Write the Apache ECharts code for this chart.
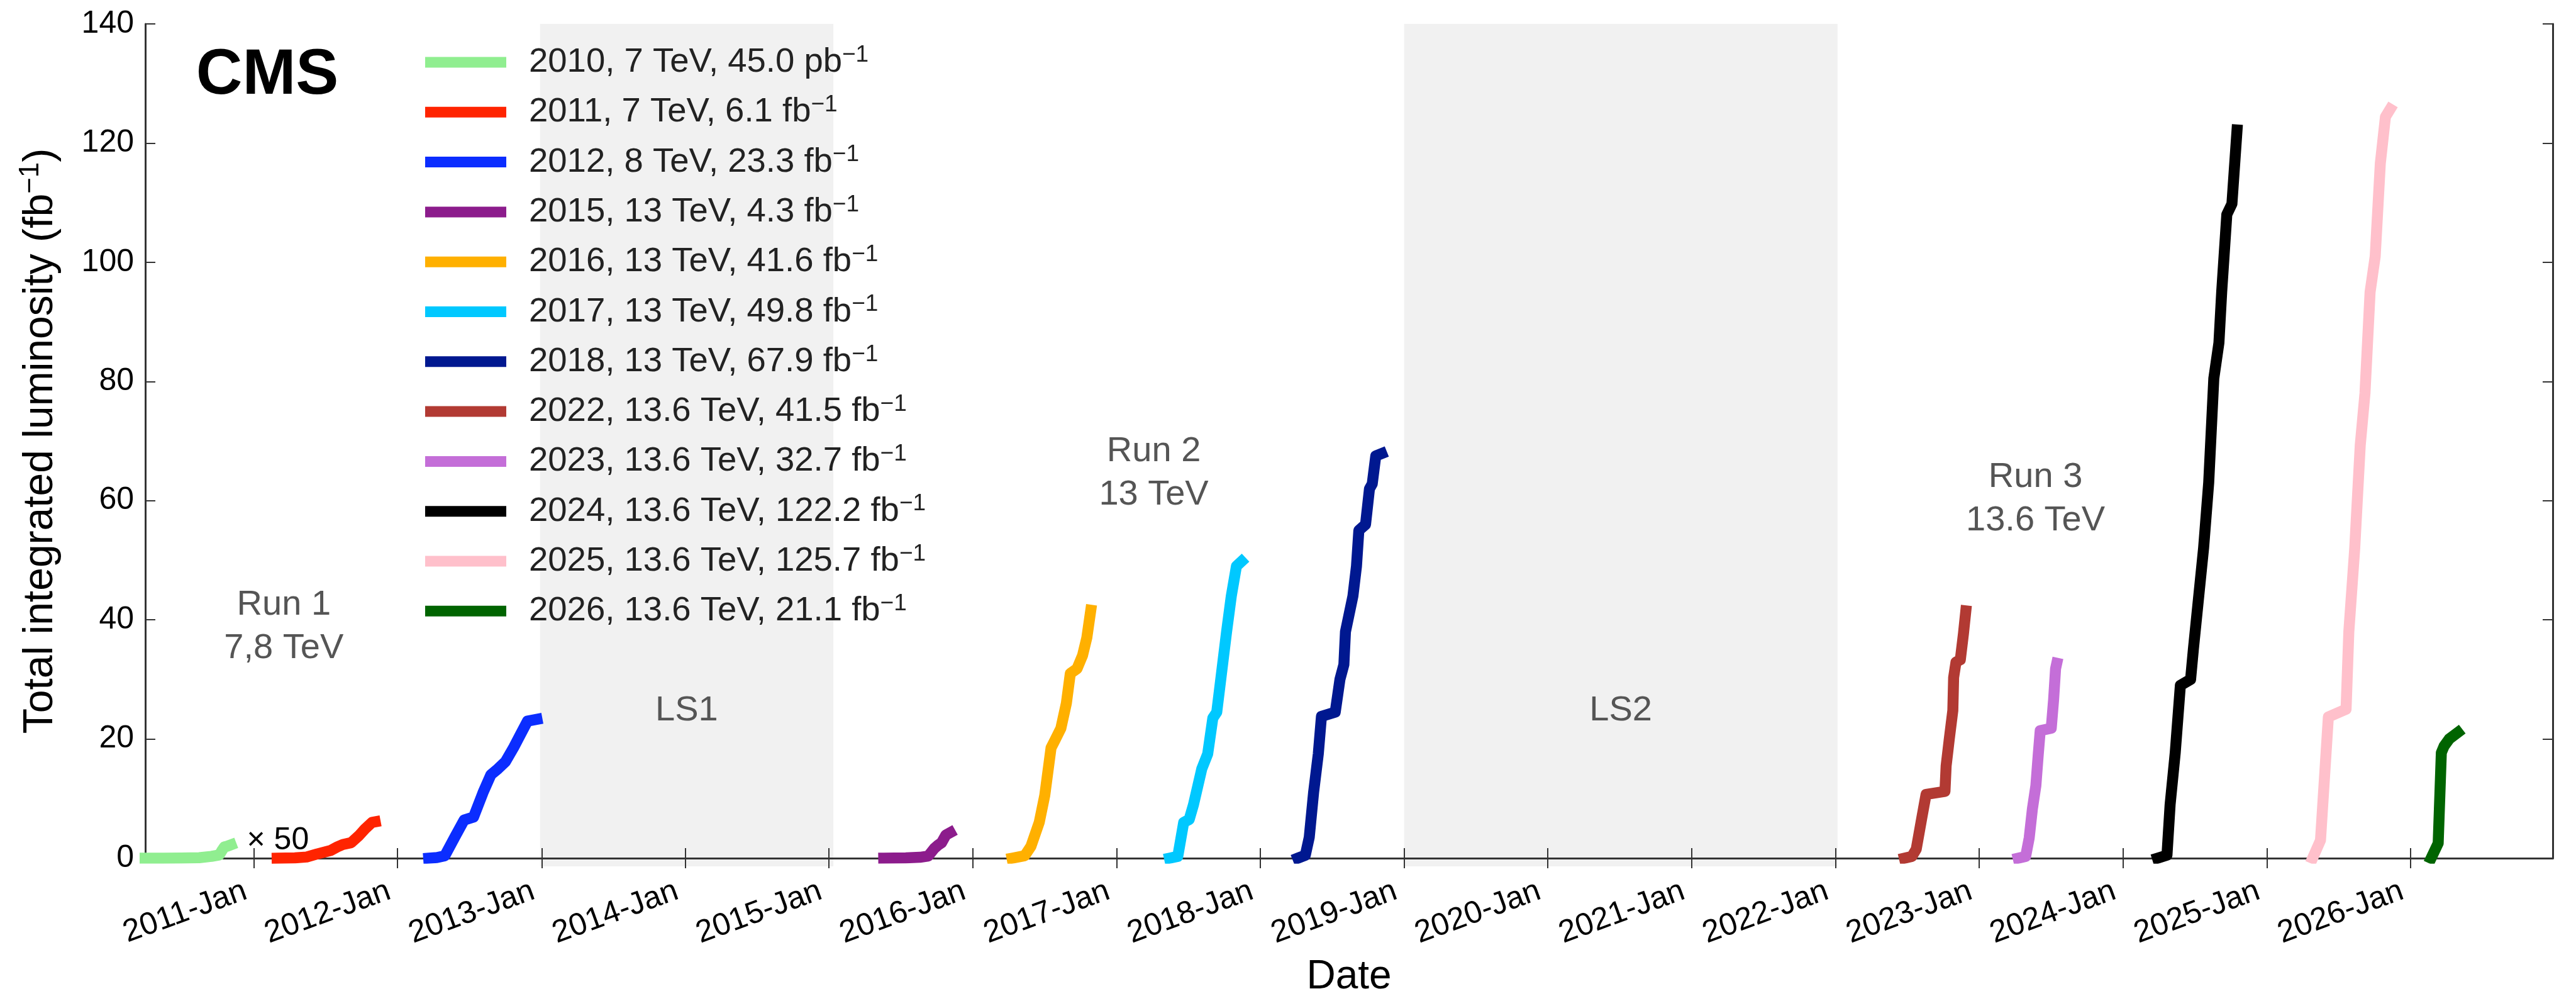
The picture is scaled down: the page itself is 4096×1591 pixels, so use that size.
<!DOCTYPE html>
<html>
<head>
<meta charset="utf-8">
<title>CMS integrated luminosity</title>
<script src="https://cdn.jsdelivr.net/npm/echarts@6/dist/echarts.min.js"></script>
<style>
  html, body { margin: 0; padding: 0; background: #fff; }
  #chart { width: 4096px; height: 1591px; }
</style>
</head>
<body>
<div id="chart"></div>
<script>
// cumulative luminosity per year (2010 is drawn x50)
const dates2010 = ['2010-03-30', '2010-05-15', '2010-07-01', '2010-08-15', '2010-09-15', '2010-10-05', '2010-10-12', '2010-10-18', '2010-10-25', '2010-11-04'];
const lumi2010 = [0, 0.01, 0.03, 0.08, 0.3, 0.55, 1.3, 1.9, 2.0, 2.25];

const dates2011 = ['2011-03-01', '2011-04-15', '2011-05-15', '2011-06-10', '2011-07-15', '2011-08-01', '2011-08-15', '2011-09-05', '2011-09-25', '2011-10-10', '2011-10-28', '2011-11-05'];
const lumi2011 = [0, 0.05, 0.2, 0.7, 1.3, 1.9, 2.3, 2.6, 3.8, 4.9, 6.0, 6.1];

const dates2012 = ['2012-03-20', '2012-04-10', '2012-04-30', '2012-05-25', '2012-06-18', '2012-07-12', '2012-08-05', '2012-08-25', '2012-09-12', '2012-10-01', '2012-10-22', '2012-11-10', '2012-11-26', '2012-12-20'];
const lumi2012 = [0, 0.1, 0.4, 3.5, 6.4, 6.9, 11.0, 14.0, 15.0, 16.2, 18.6, 21.0, 23.0, 23.3];

const dates2015 = ['2015-05-20', '2015-07-15', '2015-08-20', '2015-09-10', '2015-09-25', '2015-10-05', '2015-10-14', '2015-10-25', '2015-11-05'];
const lumi2015 = [0, 0.05, 0.15, 0.35, 1.6, 2.2, 2.6, 3.9, 4.3];

const dates2016 = ['2016-04-10', '2016-05-12', '2016-05-28', '2016-06-18', '2016-07-02', '2016-07-18', '2016-07-28', '2016-08-12', '2016-08-26', '2016-09-05', '2016-09-22', '2016-10-06', '2016-10-17', '2016-10-27'];
const lumi2016 = [0, 0.4, 2.0, 6.0, 10.5, 18.5, 19.8, 21.8, 26.0, 31.0, 31.8, 34.0, 37.0, 41.6];

const dates2017 = ['2017-05-15', '2017-06-05', '2017-06-20', '2017-07-04', '2017-07-15', '2017-08-05', '2017-08-20', '2017-09-02', '2017-09-12', '2017-10-07', '2017-10-19', '2017-11-01', '2017-11-14'];
const lumi2017 = [0, 0.3, 6.0, 6.5, 9.0, 15.0, 17.5, 23.5, 24.5, 38.0, 44.0, 49.0, 49.8];

const dates2018 = ['2018-04-06', '2018-04-25', '2018-05-05', '2018-05-16', '2018-05-28', '2018-06-05', '2018-07-10', '2018-07-22', '2018-08-01', '2018-08-05', '2018-08-24', '2018-09-02', '2018-09-08', '2018-09-25', '2018-10-05', '2018-10-12', '2018-10-21', '2018-11-05'];
const lumi2018 = [0, 0.5, 3.5, 11.0, 17.5, 23.8, 24.5, 30.0, 32.5, 38.0, 44.0, 49.0, 55.0, 56.0, 62.0, 62.8, 67.5, 67.9];

const dates2022 = ['2022-06-25', '2022-07-14', '2022-07-25', '2022-08-08', '2022-08-19', '2022-10-06', '2022-10-09', '2022-10-17', '2022-10-26', '2022-10-28', '2022-11-03', '2022-11-14', '2022-11-22', '2022-11-28'];
const lumi2022 = [0, 0.3, 1.5, 6.7, 10.7, 11.2, 15.5, 20.0, 24.8, 30.3, 32.9, 33.3, 37.7, 41.5];

const dates2023 = ['2023-04-10', '2023-04-29', '2023-05-08', '2023-05-16', '2023-05-25', '2023-05-31', '2023-06-05', '2023-07-03', '2023-07-09', '2023-07-14', '2023-07-17'];
const lumi2023 = [0, 0.3, 3.4, 8.2, 12.2, 17.4, 21.4, 21.8, 26.6, 31.8, 32.7];

const dates2024 = ['2024-03-29', '2024-04-22', '2024-04-30', '2024-05-13', '2024-05-26', '2024-06-21', '2024-06-28', '2024-07-11', '2024-07-24', '2024-08-06', '2024-08-19', '2024-09-01', '2024-09-08', '2024-09-21', '2024-10-04', '2024-10-17'];
const lumi2024 = [0, 0.5, 9.0, 17.7, 29.0, 30.0, 35.0, 43.5, 52.0, 63.0, 80.5, 86.5, 95.0, 108.0, 109.8, 122.2];

const dates2025 = ['2025-04-27', '2025-05-17', '2025-06-06', '2025-07-21', '2025-07-28', '2025-08-12', '2025-08-26', '2025-09-07', '2025-09-20', '2025-10-03', '2025-10-16', '2025-10-29', '2025-11-10'];
const lumi2025 = [0, 3.0, 23.7, 25.0, 38.0, 52.0, 69.3, 78.0, 95.0, 101.0, 116.6, 124.4, 125.7];

const dates2026 = ['2026-02-22', '2026-03-12', '2026-03-20', '2026-03-27', '2026-04-09', '2026-05-01'];
const lumi2026 = [0, 2.5, 17.7, 18.8, 20.0, 21.1];

const legendLabels = [
  '2010, 7 TeV, 45.0 pb⁻¹', '2011, 7 TeV, 6.1 fb⁻¹', '2012, 8 TeV, 23.3 fb⁻¹',
  '2015, 13 TeV, 4.3 fb⁻¹', '2016, 13 TeV, 41.6 fb⁻¹', '2017, 13 TeV, 49.8 fb⁻¹',
  '2018, 13 TeV, 67.9 fb⁻¹', '2022, 13.6 TeV, 41.5 fb⁻¹', '2023, 13.6 TeV, 32.7 fb⁻¹',
  '2024, 13.6 TeV, 122.2 fb⁻¹', '2025, 13.6 TeV, 125.7 fb⁻¹', '2026, 13.6 TeV, 21.1 fb⁻¹'
];
const allDates = [dates2010, dates2011, dates2012, dates2015, dates2016, dates2017, dates2018, dates2022, dates2023, dates2024, dates2025, dates2026];
const allLumi = [lumi2010, lumi2011, lumi2012, lumi2015, lumi2016, lumi2017, lumi2018, lumi2022, lumi2023, lumi2024, lumi2025, lumi2026];

// long shutdowns (grey bands)
const shutdownNames = ['LS1', 'LS2'];
const shutdownStart = ['2012-12-28', '2019-01-01'];
const shutdownEnd = ['2015-01-12', '2022-01-06'];

// x tick labels, one per January
const tickYears = [2011, 2012, 2013, 2014, 2015, 2016, 2017, 2018, 2019, 2020, 2021, 2022, 2023, 2024, 2025, 2026];

const lineColors = ['#90ee90', '#ff2400', '#0b2dff', '#8c1c8c', '#ffb000', '#00c8ff', '#001890', '#b23a33', '#c46ed8', '#000000', '#ffc0cb', '#006400'];
const FONT = '"Liberation Sans", Arial, Helvetica, sans-serif';

// 'YYYY-MM-DD' -> local timestamp
function ts(s) {
  const p = s.split('-').map(Number);
  return new Date(p[0], p[1] - 1, p[2]).getTime();
}

const yearTicks = tickYears.map(y => new Date(y, 0, 1).getTime());
const axisStart = ts('2010-03-31');
const axisEnd = ts('2026-12-28');

const chart = echarts.init(document.getElementById('chart'));

const axisLineStyle = { color: '#333', width: 3 };
const tickStyle = { color: '#333', width: 2 };

const lineSeries = legendLabels.map((label, i) => ({
  name: label,
  type: 'line',
  data: allDates[i].map((d, j) => [ts(d), allLumi[i][j]]),
  showSymbol: false,
  color: lineColors[i],
  lineStyle: { width: 17.5, cap: 'square', join: 'round' },
  z: 3
}));

const shutdownSeries = {
  type: 'custom',
  silent: true,
  z: -1,
  clip: false,
  data: shutdownStart.map((s, i) => [ts(s), ts(shutdownEnd[i]), 0]),
  encode: { x: [0, 1], y: 2 },
  renderItem: (params, api) => {
    const x0 = api.coord([api.value(0), 0])[0];
    const x1 = api.coord([api.value(1), 0])[0];
    const cs = params.coordSys;
    const mid = api.coord([(api.value(0) + api.value(1)) / 2, 24.7]);
    return {
      type: 'group',
      children: [
        { type: 'rect', shape: { x: x0, y: cs.y, width: x1 - x0, height: cs.height + 13 }, style: { fill: '#f1f1f1' } },
        { type: 'text', x: mid[0], y: mid[1], style: { text: shutdownNames[params.dataIndex], fill: '#555', fontSize: 56, fontFamily: FONT, align: 'center', verticalAlign: 'middle' } }
      ]
    };
  }
};

chart.setOption({
  animation: false,
  backgroundColor: '#fff',
  textStyle: { fontFamily: FONT },
  grid: { left: 231, right: 37, top: 38, bottom: 227 },
  legend: {
    orient: 'vertical',
    left: 676,
    top: 69,
    padding: 0,
    icon: 'rect',
    itemWidth: 129,
    itemHeight: 17,
    itemGap: 21.8,
    selectedMode: false,
    data: legendLabels,
    formatter: name => '{t|' + name.replace('⁻¹', '') + '}{s|−1}',
    textStyle: {
      rich: {
        t: { fontFamily: FONT, fontSize: 54.5, lineHeight: 60, color: '#222', padding: [0, 0, 0, 31] },
        s: { fontFamily: FONT, fontSize: 37, lineHeight: 40, color: '#222', verticalAlign: 'top' }
      }
    }
  },
  xAxis: [{
    type: 'value',
    min: axisStart,
    max: axisEnd,
    name: 'Date',
    nameLocation: 'middle',
    nameGap: 157,
    nameTextStyle: { fontSize: 64, color: '#000', fontFamily: FONT },
    axisLine: { show: true, lineStyle: axisLineStyle },
    axisTick: { show: true, inside: true, length: 16, customValues: yearTicks, lineStyle: tickStyle },
    axisLabel: {
      customValues: yearTicks,
      rotate: 20,
      margin: 46,
      padding: [0, 14, 0, 0],
      fontSize: 50,
      color: '#000',
      fontFamily: FONT,
      formatter: v => new Date(v).getFullYear() + '-Jan'
    },
    splitLine: { show: false }
  }, {
    type: 'value',
    position: 'top',
    min: axisStart,
    max: axisEnd,
    axisLine: { show: true, lineStyle: axisLineStyle },
    axisTick: { show: true, inside: true, length: 16, customValues: yearTicks, lineStyle: tickStyle },
    axisLabel: { show: false },
    splitLine: { show: false }
  }],
  yAxis: [{
    type: 'value',
    min: 0,
    max: 140,
    interval: 20,
    position: 'left',
    name: '{t|Total integrated luminosity (fb}{s|−1}{t|)}',
    nameLocation: 'middle',
    nameRotate: 90,
    nameGap: 128,
    nameTextStyle: {
      rich: {
        t: { fontFamily: FONT, fontSize: 66, lineHeight: 76, color: '#000' },
        s: { fontFamily: FONT, fontSize: 44, lineHeight: 46, color: '#000', verticalAlign: 'top' }
      }
    },
    axisLine: { show: true, lineStyle: axisLineStyle },
    axisTick: { show: true, inside: true, length: 16, lineStyle: tickStyle },
    axisLabel: { fontSize: 50, color: '#000', margin: 18, fontFamily: FONT },
    splitLine: { show: false }
  }, {
    type: 'value',
    min: 0,
    max: 140,
    interval: 20,
    position: 'right',
    axisLine: { show: true, lineStyle: axisLineStyle },
    axisTick: { show: true, inside: true, length: 16, lineStyle: tickStyle },
    axisLabel: { show: false },
    splitLine: { show: false }
  }],
  series: [shutdownSeries].concat(lineSeries)
});

// text annotations placed in data coordinates
const notes = [
  { text: 'CMS', at: ['2010-08-07', 131.2], style: { fontSize: 102, fontWeight: 'bold', fill: '#000', align: 'left' } },
  { text: 'Run 1\n7,8 TeV', at: ['2011-03-18', 38.8], style: { fontSize: 56, fill: '#555', align: 'center', lineHeight: 69 } },
  { text: 'Run 2\n13 TeV', at: ['2017-04-05', 64.6], style: { fontSize: 56, fill: '#555', align: 'center', lineHeight: 69 } },
  { text: 'Run 3\n13.6 TeV', at: ['2023-05-24', 60.3], style: { fontSize: 56, fill: '#555', align: 'center', lineHeight: 69 } },
  { text: '× 50', at: ['2010-12-14', 2.9], style: { fontSize: 50, fill: '#000', align: 'left' } }
];

chart.setOption({
  graphic: notes.map(n => {
    const p = chart.convertToPixel({ gridIndex: 0 }, [ts(n.at[0]), n.at[1]]);
    return {
      type: 'text',
      x: p[0],
      y: p[1],
      z: 10,
      silent: true,
      style: Object.assign({ text: n.text, fontFamily: FONT, verticalAlign: 'middle' }, n.style)
    };
  })
});
</script>
</body>
</html>
